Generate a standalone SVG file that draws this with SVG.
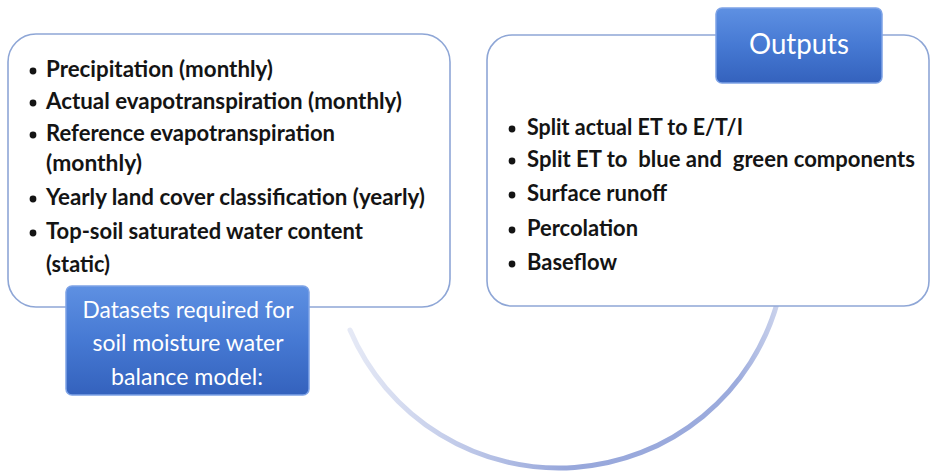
<svg xmlns="http://www.w3.org/2000/svg" width="932" height="474" viewBox="0 0 932 474">
<style>
.panel{fill:#ffffff;stroke:#8ea6d6;stroke-width:1.6}
.tag{fill:url(#blueGrad);stroke:#7ea3e6;stroke-width:1.5}
.item{font-family:Lato,"Liberation Sans",sans-serif;font-weight:700;font-size:22px;fill:#141414}
.bullet{fill:#141414}
.tagtext{font-family:Lato,"Open Sans",sans-serif;font-size:22.5px;fill:#ffffff;text-anchor:middle}
</style>
<defs>
<linearGradient id="blueGrad" x1="0" y1="0" x2="0" y2="1">
<stop offset="0" stop-color="#5e90e2"/>
<stop offset="0.5" stop-color="#4679d3"/>
<stop offset="1" stop-color="#3462bd"/>
</linearGradient>
<linearGradient id="arcGrad" gradientUnits="userSpaceOnUse" x1="350" y1="0" x2="780" y2="0">
<stop offset="0" stop-color="#a9b6e0" stop-opacity="0.3"/>
<stop offset="0.5" stop-color="#97a7db" stop-opacity="1"/>
<stop offset="0.9" stop-color="#97a7db" stop-opacity="0.95"/>
<stop offset="1" stop-color="#a9b6e0" stop-opacity="0.6"/>
</linearGradient>
</defs>
<g id="connectors">
<path d="M 350 330 A 227 227 0 0 0 778 300" fill="none" stroke="url(#arcGrad)" stroke-width="5" stroke-linecap="round"/>
</g>
<g id="inputs-panel">
<rect class="panel" x="8" y="34" width="442" height="273" rx="28"/>
<g class="bullet">
<circle cx="33" cy="71" r="3.4"/><circle cx="33" cy="103" r="3.4"/><circle cx="33" cy="135" r="3.4"/>
<circle cx="33" cy="199" r="3.4"/><circle cx="33" cy="233" r="3.4"/>
</g>
<text class="item" x="46" y="77" textLength="227" lengthAdjust="spacingAndGlyphs">Precipitation (monthly)</text>
<text class="item" x="46" y="109" textLength="356" lengthAdjust="spacingAndGlyphs">Actual evapotranspiration (monthly)</text>
<text class="item" x="46" y="141" textLength="289" lengthAdjust="spacingAndGlyphs">Reference evapotranspiration</text>
<text class="item" x="46" y="171" textLength="96" lengthAdjust="spacingAndGlyphs">(monthly)</text>
<text class="item" x="46" y="205" textLength="379" lengthAdjust="spacingAndGlyphs">Yearly land cover classification (yearly)</text>
<text class="item" x="46" y="239" textLength="317" lengthAdjust="spacingAndGlyphs">Top-soil saturated water content</text>
<text class="item" x="46" y="272" textLength="64" lengthAdjust="spacingAndGlyphs">(static)</text>
</g>
<g id="outputs-panel">
<rect class="panel" x="487" y="35" width="442" height="271" rx="25"/>
<g class="bullet">
<circle cx="512" cy="129" r="3.4"/><circle cx="512" cy="161" r="3.4"/><circle cx="512" cy="195" r="3.4"/>
<circle cx="512" cy="230" r="3.4"/><circle cx="512" cy="264" r="3.4"/>
</g>
<text class="item" x="527" y="135" textLength="216" lengthAdjust="spacingAndGlyphs">Split actual ET to E/T/I</text>
<text class="item" x="527" y="167" textLength="388" lengthAdjust="spacingAndGlyphs" xml:space="preserve">Split ET to  blue and  green components</text>
<text class="item" x="527" y="201" textLength="140" lengthAdjust="spacingAndGlyphs">Surface runoff</text>
<text class="item" x="527" y="236" textLength="111" lengthAdjust="spacingAndGlyphs">Percolation</text>
<text class="item" x="527" y="270" textLength="90" lengthAdjust="spacingAndGlyphs">Baseflow</text>
</g>
<g id="outputs-label">
<rect class="tag" x="716" y="8" width="166" height="75" rx="6"/>
<text class="tagtext" x="799" y="54" textLength="100" lengthAdjust="spacingAndGlyphs" style="font-size:28px">Outputs</text>
</g>
<g id="datasets-label">
<rect class="tag" x="66" y="286" width="243" height="109" rx="6"/>
<text class="tagtext" x="188" y="318" textLength="211" lengthAdjust="spacingAndGlyphs">Datasets required for</text>
<text class="tagtext" x="188" y="351" textLength="191" lengthAdjust="spacingAndGlyphs">soil moisture water</text>
<text class="tagtext" x="187" y="385" textLength="152" lengthAdjust="spacingAndGlyphs">balance model:</text>
</g>
</svg>
